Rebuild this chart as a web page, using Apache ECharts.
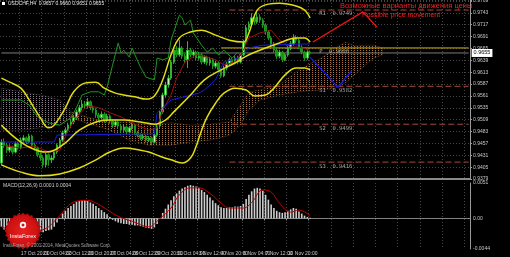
<!DOCTYPE html>
<html><head><meta charset="utf-8">
<script src="https://cdn.jsdelivr.net/npm/echarts@6/dist/echarts.min.js"></script>
<style>html,body{margin:0;padding:0;background:#000;}#c{width:510px;height:257px;}</style>
</head><body><div id="c"></div>
<script>
// ---------- data ----------
const slotCount = 169; // candle slots incl. 26-bar Ichimoku projection and right margin
const timeLabels = ['16 Oct 2014','17 Oct 20:00','21 Oct 04:00','22 Oct 12:00','23 Oct 20:00','27 Oct 04:00','28 Oct 12:00','29 Oct 20:00','31 Oct 04:00','3 Nov 12:00','4 Nov 20:00','6 Nov 04:00','7 Nov 12:00','10 Nov 20:00','12 Nov 04:00'];
const priceTicks = ['0.9379','0.9405','0.9431','0.9457','0.9483','0.9509','0.9535','0.9561','0.9587','0.9613','0.9639','0.9665','0.9691','0.9717','0.9743','0.9769'];
const macdTicks = [-0.0044, 0, 0.0051];
// [open, close, low, high]
const candles = [
[0.9414,0.9460,0.9409,0.9466],[0.9460,0.9453,0.9447,0.9468],[0.9453,0.9442,0.9436,0.9458],[0.9442,0.9449,0.9437,0.9455],
[0.9449,0.9438,0.9433,0.9452],[0.9438,0.9456,0.9435,0.9461],[0.9456,0.9447,0.9443,0.9460],[0.9447,0.9464,0.9444,0.9470],
[0.9464,0.9469,0.9458,0.9475],[0.9469,0.9460,0.9455,0.9472],[0.9460,0.9473,0.9457,0.9478],[0.9473,0.9453,0.9449,0.9476],
[0.9453,0.9447,0.9441,0.9458],[0.9447,0.9432,0.9427,0.9450],[0.9432,0.9425,0.9419,0.9437],[0.9425,0.9410,0.9403,0.9429],
[0.9410,0.9432,0.9405,0.9436],[0.9432,0.9421,0.9408,0.9435],[0.9421,0.9425,0.9414,0.9430],[0.9425,0.9438,0.9420,0.9442],
[0.9438,0.9453,0.9434,0.9457],[0.9453,0.9464,0.9449,0.9469],[0.9464,0.9480,0.9460,0.9485],[0.9480,0.9486,0.9474,0.9492],
[0.9486,0.9497,0.9481,0.9502],[0.9497,0.9504,0.9491,0.9510],[0.9504,0.9513,0.9499,0.9519],[0.9513,0.9526,0.9508,0.9531],
[0.9526,0.9535,0.9521,0.9541],[0.9535,0.9543,0.9529,0.9552],[0.9543,0.9539,0.9533,0.9550],[0.9539,0.9548,0.9535,0.9556],
[0.9548,0.9535,0.9530,0.9551],[0.9535,0.9530,0.9524,0.9540],[0.9530,0.9519,0.9513,0.9534],[0.9519,0.9513,0.9506,0.9524],
[0.9513,0.9521,0.9509,0.9527],[0.9521,0.9508,0.9502,0.9525],[0.9508,0.9517,0.9504,0.9522],[0.9517,0.9506,0.9500,0.9520],
[0.9506,0.9497,0.9491,0.9510],[0.9497,0.9504,0.9493,0.9509],[0.9504,0.9495,0.9489,0.9507],[0.9495,0.9486,0.9480,0.9499],
[0.9486,0.9493,0.9482,0.9498],[0.9493,0.9482,0.9477,0.9496],[0.9482,0.9491,0.9479,0.9495],[0.9491,0.9497,0.9486,0.9503],
[0.9497,0.9480,0.9475,0.9500],[0.9480,0.9475,0.9470,0.9484],[0.9475,0.9469,0.9464,0.9479],[0.9469,0.9473,0.9465,0.9478],
[0.9473,0.9464,0.9459,0.9476],[0.9464,0.9469,0.9460,0.9473],[0.9469,0.9460,0.9453,0.9472],[0.9460,0.9475,0.9457,0.9479],
[0.9475,0.9495,0.9471,0.9499],[0.9495,0.9526,0.9491,0.9530],[0.9526,0.9563,0.9522,0.9568],[0.9563,0.9585,0.9557,0.9592],
[0.9585,0.9600,0.9579,0.9607],[0.9600,0.9635,0.9596,0.9640],[0.9635,0.9661,0.9631,0.9668],[0.9661,0.9651,0.9646,0.9670],
[0.9651,0.9666,0.9647,0.9683],[0.9666,0.9648,0.9642,0.9670],[0.9648,0.9640,0.9633,0.9653],[0.9640,0.9661,0.9622,0.9681],
[0.9661,0.9651,0.9646,0.9666],[0.9651,0.9657,0.9645,0.9662],[0.9657,0.9644,0.9639,0.9660],[0.9644,0.9651,0.9640,0.9657],
[0.9651,0.9635,0.9630,0.9655],[0.9635,0.9646,0.9631,0.9650],[0.9646,0.9633,0.9628,0.9649],[0.9633,0.9640,0.9627,0.9646],
[0.9640,0.9626,0.9620,0.9644],[0.9626,0.9633,0.9621,0.9638],[0.9633,0.9618,0.9613,0.9636],[0.9618,0.9605,0.9600,0.9622],
[0.9605,0.9622,0.9602,0.9627],[0.9622,0.9631,0.9617,0.9635],[0.9631,0.9640,0.9626,0.9645],[0.9640,0.9633,0.9628,0.9644],
[0.9633,0.9644,0.9630,0.9648],[0.9644,0.9635,0.9630,0.9649],[0.9635,0.9651,0.9632,0.9655],[0.9651,0.9679,0.9648,0.9684],
[0.9679,0.9710,0.9675,0.9716],[0.9710,0.9718,0.9704,0.9724],[0.9718,0.9732,0.9713,0.9742],[0.9732,0.9723,0.9717,0.9738],
[0.9723,0.9734,0.9719,0.9745],[0.9734,0.9727,0.9721,0.9740],[0.9727,0.9716,0.9710,0.9731],[0.9716,0.9701,0.9695,0.9720],
[0.9701,0.9688,0.9683,0.9705],[0.9688,0.9675,0.9670,0.9692],[0.9675,0.9661,0.9655,0.9679],[0.9661,0.9648,0.9642,0.9665],
[0.9648,0.9657,0.9643,0.9662],[0.9657,0.9640,0.9635,0.9660],[0.9640,0.9651,0.9637,0.9655],[0.9651,0.9666,0.9647,0.9670],
[0.9666,0.9675,0.9661,0.9681],[0.9675,0.9688,0.9671,0.9696],[0.9688,0.9683,0.9677,0.9694],[0.9683,0.9668,0.9663,0.9687],
[0.9668,0.9657,0.9652,0.9672],[0.9657,0.9644,0.9638,0.9660],[0.9644,0.9657,0.9640,0.9661],[0.9657,0.9655,0.9651,0.9660]
];
const bbUpper = [[0,0.9600],[3,0.9591],[7,0.9578],[10,0.9552],[14,0.9513],[17,0.9491],[19,0.9497],[23,0.9535],[26,0.9570],[30,0.9589],[34,0.9591],[37,0.9578],[41,0.9567],[44,0.9563],[48,0.9559],[52,0.9554],[55,0.9561],[58,0.9596],[61,0.9651],[64,0.9688],[68,0.9701],[72,0.9705],[77,0.9694],[82,0.9683],[87,0.9679],[89,0.9699],[92,0.9749],[96,0.9762],[100,0.9764],[106,0.9758],[109,0.9749],[111,0.9732]];
const bbMiddle = [[0,0.9497],[5,0.9469],[10,0.9449],[16,0.9438],[19,0.9442],[23,0.9458],[28,0.9486],[34,0.9504],[39,0.9508],[44,0.9508],[50,0.9504],[55,0.9499],[59,0.9508],[62,0.9526],[68,0.9563],[73,0.9596],[79,0.9618],[84,0.9633],[89,0.9651],[95,0.9666],[100,0.9677],[106,0.9688],[109,0.9688],[111,0.9679]];
const bbLower = [[0,0.9410],[7,0.9394],[14,0.9386],[21,0.9390],[28,0.9403],[34,0.9421],[39,0.9438],[44,0.9447],[50,0.9442],[53,0.9438],[57,0.9429],[61,0.9421],[65,0.9414],[68,0.9425],[70,0.9450],[72,0.9486],[74,0.9515],[77,0.9545],[80,0.9567],[84,0.9578],[88,0.9574],[91,0.9561],[95,0.9563],[98,0.9578],[102,0.9607],[106,0.9622],[109,0.9622],[111,0.9618]];
const tenkan = [[0,0.9453],[7,0.9447],[12,0.9451],[17,0.9438],[21,0.9442],[24,0.9486],[27,0.9515],[31,0.9539],[35,0.9535],[39,0.9524],[43,0.9515],[48,0.9499],[53,0.9486],[56,0.9491],[58,0.9530],[61,0.9563],[63,0.9600],[66,0.9635],[70,0.9651],[73,0.9648],[77,0.9640],[80,0.9629],[84,0.9635],[87,0.9661],[89,0.9688],[93,0.9699],[97,0.9705],[100,0.9683],[104,0.9668],[107,0.9668],[111,0.9661]];
const kijun = [[0,0.9460],[19,0.9460],[20,0.9475],[55,0.9478],[56,0.9524],[61,0.9552],[71,0.9567],[73,0.9574],[77,0.9596],[80,0.9635],[85,0.9644],[89,0.9666],[94,0.9672],[111,0.9675]];
const chikou = [[0,0.9552],[7,0.9552],[10,0.9541],[13,0.9515],[17,0.9502],[21,0.9497],[25,0.9513],[27,0.9535],[29,0.9563],[32,0.9570],[35,0.9570],[37,0.9563],[38,0.9580],[40,0.9629],[42,0.9677],[43,0.9655],[44,0.9661],[46,0.9646],[47,0.9666],[48,0.9651],[50,0.9624],[52,0.9602],[55,0.9596],[56,0.9644],[58,0.9640],[60,0.9644],[61,0.9683],[64,0.9738],[65,0.9732],[66,0.9716],[68,0.9727],[69,0.9699],[70,0.9690],[72,0.9672],[74,0.9657],[76,0.9666],[78,0.9651],[80,0.9661],[83,0.9644],[85,0.9657]];
const cloudThistle = [[0,0.9578],[7,0.9570],[14,0.9563],[21,0.9552],[25,0.9526],[25,0.9513],[21,0.9497],[14,0.9491],[7,0.9486],[0,0.9486]];
const cloudBrown = [[25,0.9526],[32,0.9513],[39,0.9502],[46,0.9504],[53,0.9497],[61,0.9502],[68,0.9497],[75,0.9499],[82,0.9504],[86,0.9541],[89,0.9570],[93,0.9574],[100,0.9585],[107,0.9618],[115,0.9644],[120,0.9666],[124,0.9679],[127,0.9670],[131,0.9672],[134,0.9672],[137,0.9666],
 [137,0.9651],[134,0.9644],[131,0.9629],[127,0.9607],[124,0.9591],[120,0.9578],[115,0.9574],[107,0.9570],[100,0.9563],[93,0.9552],[89,0.9530],[86,0.9497],[82,0.9475],[75,0.9464],[68,0.9460],[61,0.9453],[53,0.9453],[46,0.9464],[39,0.9486],[32,0.9499],[25,0.9513]];
const pivotNames = ['R1','P','S1','S2','S3'];
const pivotValues = [0.9749,0.9666,0.9582,0.9499,0.9416];
const pivotStart = [82,79,82,83,82];
const bidPrice = 0.9655;
const forecastUp = [[112,0.9679],[130,0.9745],[135,0.9712]];
const forecastDown = [[111,0.9646],[121,0.9580],[126,0.9616]];
const macdHist = [
-0.0012,-0.0016,-0.0019,-0.0020,
-0.0021,-0.0022,-0.0021,-0.0022,-0.0020,-0.0019,-0.0018,-0.0018,
-0.0017,-0.0018,-0.0019,-0.0020,-0.0018,-0.0017,-0.0016,-0.0012,
-0.0006,0.0001,0.0007,0.0011,0.0015,0.0018,0.0021,0.0024,0.0025,
0.0026,0.0026,0.0025,
0.0023,0.0021,0.0018,0.0015,0.0012,0.0009,0.0006,0.0002,
-0.0002,-0.0004,-0.0006,-0.0007,-0.0008,-0.0008,-0.0009,-0.0009,-0.0010,-0.0010,-0.0011,-0.0012,-0.0013,-0.0014,-0.0015,-0.0013,
-0.0008,0.0000,0.0008,0.0014,0.0020,0.0026,
0.0032,0.0036,0.0040,0.0043,0.0045,0.0047,0.0048,
0.0047,0.0046,0.0044,0.0041,0.0038,
0.0034,0.0030,0.0026,0.0022,0.0019,0.0016,0.0015,
0.0015,0.0016,0.0016,0.0017,0.0017,0.0018,0.0021,0.0028,
0.0034,0.0039,0.0043,0.0044,0.0043,0.0040,0.0034,
0.0027,0.0020,0.0015,0.0011,0.0009,0.0008,
0.0009,0.0011,0.0013,0.0015,0.0014,0.0010,
0.0007,0.0004,0.0002,0.0001];
const macdSignal = [[0,-0.0012],[7,-0.0019],[14,-0.0017],[17,-0.0012],[20,0.0000],[27,0.0025],[31,0.0026],[35,0.0020],[42,0.0003],[47,-0.0004],[53,-0.0012],[57,0.0000],[61,0.0015],[64,0.0034],[68,0.0044],[71,0.0044],[75,0.0036],[79,0.0022],[82,0.0015],[87,0.0015],[90,0.0023],[94,0.0041],[97,0.0038],[100,0.0022],[104,0.0009],[107,0.0012],[111,0.0004]];

// ---------- chart ----------
const categories = Array.from({length: slotCount}, (_, i) => String(i));
const PRICE_MIN = 0.9379, PRICE_MAX = 0.9771, PRICE_STEP = 0.0026;
const FONT = 'Liberation Sans';
const gridColor = '#454545';
const labelColor = '#c8c8c8';
const lastIdx = slotCount - 1;

function hatch(color) {
  const c = document.createElement('canvas');
  c.width = 3; c.height = 2;
  const g = c.getContext('2d');
  g.fillStyle = color; g.fillRect(0, 0, 1, 1);
  return { image: c, repeat: 'repeat' };
}
function cloudSeries(points, dotColor, edgeColor) {
  const pat = hatch(dotColor);
  return {
    type: 'custom', xAxisIndex: 0, yAxisIndex: 0, z: 1, silent: true, clip: true,
    data: [points[0]],
    renderItem: function (params, api) {
      return { type: 'polygon', shape: { points: points.map(p => api.coord(p)) },
        style: { fill: pat, stroke: edgeColor, lineWidth: 0.5 } };
    }
  };
}
const labelShown = i => i === 0 || (i >= 7 && i <= 111 && (i - 7) % 8 === 0);
const splitShown = i => i >= 7 && (i - 7) % 8 === 0;
const lineS = (data, color, width, extra) => Object.assign({
  type: 'line', xAxisIndex: 0, yAxisIndex: 0, data: data, symbol: 'none', silent: true,
  lineStyle: { color: color, width: width }, z: 4, animation: false
}, extra || {});

const series = [
  cloudSeries(cloudThistle, '#8a7a8a', 'rgba(138,122,138,0.45)'),
  cloudSeries(cloudBrown, '#a8703f', 'rgba(168,112,63,0.5)')
];
pivotValues.forEach((v, k) => {
  const isP = pivotNames[k] === 'P';
  series.push(lineS([[pivotStart[k], v], [lastIdx, v]], isP ? '#d6b400' : '#a9483a', 1,
    { z: 2, lineStyle: { color: isP ? '#d6b400' : '#a9483a', width: 1, type: isP ? 'solid' : [6, 3] } }));
});
series.push(lineS([[0, bidPrice], [lastIdx, bidPrice]], '#7c7c7c', 1, {
  z: 2,
  endLabel: { show: true, formatter: () => bidPrice.toFixed(4), backgroundColor: '#ffffff', color: '#000000',
    fontSize: 5.5, fontFamily: FONT, padding: [1, 2], distance: 3 }
}));
series.push({
  type: 'candlestick', xAxisIndex: 0, yAxisIndex: 0, data: candles, barWidth: 2, z: 3, silent: true,
  itemStyle: { color: '#c4f2bc', color0: '#12900f', borderColor: '#2fb52f', borderColor0: '#1d9a1d', borderWidth: 1 }
});
series.push(lineS(chikou, '#1e961e', 1));
series.push(lineS(tenkan, '#a01010', 1));
series.push(lineS(kijun, '#1c1cd8', 1));
series.push(lineS(bbUpper, '#e2dc10', 1.5, { smooth: 0.4 }));
series.push(lineS(bbMiddle, '#e2dc10', 1.5, { smooth: 0.4 }));
series.push(lineS(bbLower, '#e2dc10', 1.5, { smooth: 0.4 }));
series.push(lineS(forecastUp, '#ee1515', 1.3, { z: 6 }));
series.push(lineS(forecastDown, '#1515ee', 1.3, { z: 6 }));
series.push({
  type: 'scatter', xAxisIndex: 0, yAxisIndex: 0, symbolSize: 1, silent: true, z: 6,
  itemStyle: { color: 'rgba(0,0,0,0)' },
  data: pivotValues.map((v, k) => ({ value: [113, v], name: pivotNames[k] + '  ' + v.toFixed(4) })),
  label: { show: true, position: 'right', offset: [-2, 4], formatter: '{b}', color: '#c8c8c8', fontSize: 5.5, fontFamily: 'DejaVu Sans Mono' }
});
// MACD panel
series.push({
  type: 'line', xAxisIndex: 1, yAxisIndex: 2, data: [[0, 0], [lastIdx, 0]], symbol: 'none', silent: true,
  lineStyle: { color: '#6a6a6a', width: 1, type: [1, 2] }, z: 1
});
series.push({
  type: 'bar', xAxisIndex: 1, yAxisIndex: 2, data: macdHist, barWidth: 1.6, silent: true,
  itemStyle: { color: '#cdcdcd' }, z: 2
});
series.push({
  type: 'line', xAxisIndex: 1, yAxisIndex: 2, data: macdSignal, symbol: 'none', smooth: 0.4, silent: true,
  lineStyle: { color: '#c00000', width: 1 }, z: 3
});

// starburst for the watermark logo
const burst = [];
for (let k = 0; k < 48; k++) {
  const a = k / 48 * Math.PI * 2, r = k % 2 ? 16.5 : 18.5;
  burst.push([23 + r * Math.cos(a), 231 + r * Math.sin(a)]);
}

const option = {
  backgroundColor: '#000000',
  animation: false,
  grid: [
    { left: 0, right: 40, top: 0, height: 179, outerBoundsMode: 'none' },
    { left: 0, right: 40, top: 183, height: 66, outerBoundsMode: 'none' }
  ],
  xAxis: [
    { type: 'category', gridIndex: 0, data: categories, boundaryGap: true,
      axisLine: { show: true, lineStyle: { color: '#8a8a8a', width: 2 } },
      axisTick: { show: false }, axisLabel: { show: false },
      splitLine: { show: true, interval: (i) => splitShown(i), lineStyle: { color: gridColor, type: [1, 2] } } },
    { type: 'category', gridIndex: 1, data: categories, boundaryGap: true,
      axisLine: { show: true, lineStyle: { color: '#8a8a8a', width: 1 } },
      axisTick: { show: true, interval: (i) => labelShown(i), length: 2, lineStyle: { color: '#9a9a9a' } },
      axisLabel: { show: true, interval: (i) => labelShown(i), align: 'left', margin: 2,
        fontSize: 5, fontFamily: FONT, color: labelColor,
        formatter: (v, i) => i === 0 ? timeLabels[0] : (timeLabels[(i - 7) / 8 + 1] || '') },
      splitLine: { show: true, interval: (i) => splitShown(i), lineStyle: { color: gridColor, type: [1, 2] } } }
  ],
  yAxis: [
    { type: 'value', gridIndex: 0, min: PRICE_MIN, max: PRICE_MAX, show: false, scale: true },
    { type: 'value', gridIndex: 0, min: 0, max: +(PRICE_MAX - PRICE_MIN).toFixed(4), interval: PRICE_STEP, position: 'right',
      axisLine: { show: true, lineStyle: { color: '#9a9a9a' } },
      axisTick: { show: true, length: 2, lineStyle: { color: '#9a9a9a' } },
      axisLabel: { show: true, margin: 3, fontSize: 5, fontFamily: FONT, color: labelColor,
        formatter: (v) => { const k = v / PRICE_STEP; return Math.abs(k - Math.round(k)) < 1e-6 ? (priceTicks[Math.round(k)] || '') : ''; } },
      splitLine: { show: true, lineStyle: { color: gridColor, type: [1, 2] } } },
    { type: 'value', gridIndex: 1, min: -0.0044, max: 0.0051, position: 'right',
      axisLine: { show: true, lineStyle: { color: '#9a9a9a' } },
      axisTick: { show: false },
      axisLabel: { show: true, customValues: macdTicks, margin: 3, fontSize: 5, fontFamily: FONT, color: labelColor,
        formatter: (v) => v === 0 ? '0.00' : v.toFixed(4) },
      splitLine: { show: false } }
  ],
  series: series,
  graphic: [
    { type: 'rect', z: 100, shape: { x: 2, y: 2, width: 3, height: 3 }, style: { fill: '#ffffff' } },
    { type: 'text', z: 100, x: 8, y: 4, style: { text: 'USDCHF,H4  0.9657 0.9660 0.9651 0.9655', fill: '#e6e6e6', fontSize: 5, fontFamily: FONT, verticalAlign: 'middle' } },
    { type: 'text', z: 100, x: 340, y: 6, style: { text: 'Возможные варианты движения цены', fill: '#ff1e1e', fontSize: 7.5, fontFamily: FONT, verticalAlign: 'middle' } },
    { type: 'text', z: 100, x: 362, y: 15, style: { text: 'Possible price movement', fill: '#ff1e1e', fontSize: 7, fontFamily: FONT, verticalAlign: 'middle' } },
    { type: 'text', z: 100, x: 3, y: 186, style: { text: 'MACD(12,26,9) 0.0001 0.0004', fill: '#d0d0d0', fontSize: 5, fontFamily: FONT, verticalAlign: 'middle' } },
    { type: 'polygon', z: 100, shape: { points: burst }, style: { fill: { type: 'radial', x: 0.5, y: 0.5, r: 0.5, colorStops: [{ offset: 0, color: '#e82222' }, { offset: 0.8, color: '#cc1010' }, { offset: 1, color: '#a00808' }] } } },
    { type: 'circle', z: 101, shape: { cx: 23, cy: 225, r: 3.2 }, style: { fill: '#ffffff' } },
    { type: 'circle', z: 102, shape: { cx: 23, cy: 225, r: 1.5 }, style: { fill: '#d01414' } },
    { type: 'text', z: 101, x: 23, y: 236, style: { text: 'InstaForex', fill: '#ffffff', fontSize: 5.5, fontFamily: FONT, align: 'center', verticalAlign: 'middle' } },
    { type: 'text', z: 100, x: 3, y: 246, style: { text: 'InstaForex, © 2001-2014, MetaQuotes Software Corp.', fill: '#a8a8a8', fontSize: 4.5, fontFamily: FONT, verticalAlign: 'middle' } }
  ]
};
const chart = echarts.init(document.getElementById('c'), null, { renderer: 'canvas' });
chart.setOption(option);
</script>
</body></html>
